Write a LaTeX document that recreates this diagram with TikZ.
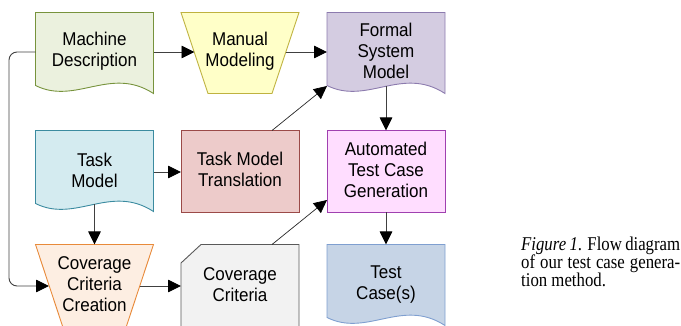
\documentclass[tikz,border=0pt]{standalone}
\usepackage{fontspec}
\setmainfont{Liberation Serif}
\newfontfamily\arialf[FakeStretch=0.92]{Liberation Sans}
\newfontfamily\capf[FakeStretch=0.86]{Liberation Serif}
\usetikzlibrary{arrows.meta}
\definecolor{mdfill}{HTML}{EBF1DE}\definecolor{mddraw}{HTML}{77933C}
\definecolor{mmfill}{HTML}{FFFFC8}\definecolor{mmdraw}{HTML}{BFB23F}
\definecolor{fsfill}{HTML}{D4CCE1}\definecolor{fsdraw}{HTML}{8C7BAE}
\definecolor{tmfill}{HTML}{D4EBF0}\definecolor{tmdraw}{HTML}{3B8BA0}
\definecolor{trfill}{HTML}{EDCBCA}\definecolor{trdraw}{HTML}{9B4A48}
\definecolor{agfill}{HTML}{FFDDFF}\definecolor{agdraw}{HTML}{A040B0}
\definecolor{ccfill}{HTML}{FDEEE2}\definecolor{ccdraw}{HTML}{E88A3A}
\definecolor{cgfill}{HTML}{F2F2F2}\definecolor{cgdraw}{HTML}{595959}
\definecolor{tcfill}{HTML}{C6D4E6}\definecolor{tcdraw}{HTML}{7F9FD0}
\begin{document}
\begin{tikzpicture}[x=1pt,y=-1pt,
  lbl/.style={font=\arialf\fontsize{18.5}{21}\selectfont, align=center, inner sep=0pt},
  shp/.style={line width=0.9pt},
  tip/.style={-{Triangle[length=13pt,width=12.5pt,color=black,fill=black]}},
  conn/.style={draw=black!75, line width=0.9pt, tip},
  thin conn/.style={draw=black!85, line width=0.7pt, tip},
  captext/.style={font=\capf\fontsize{19.5}{18}\selectfont, anchor=base west, inner sep=0pt}]
\useasboundingbox (0,0) rectangle (681,326);

% document shapes
\newcommand\docshape[4]{%
  \begin{scope}[shift={(#1,#2)}]
  \filldraw[shp, fill=#3, draw=#4] (0,0) -- (118,0) -- (118,81)
    .. controls (75,53) and (40,93) .. (0,73) -- cycle;
  \end{scope}}

\docshape{35.5}{12.5}{mdfill}{mddraw}
\docshape{327}{12.5}{fsfill}{fsdraw}
\docshape{35.5}{130.5}{tmfill}{tmdraw}
\docshape{327}{244.5}{tcfill}{tcdraw}

% manual modeling trapezoid
\filldraw[shp, fill=mmfill, draw=mmdraw] (181,12.5) -- (299,12.5) -- (272,93.5) -- (208,93.5) -- cycle;
% task model translation
\filldraw[shp, fill=trfill, draw=trdraw] (181,130.5) rectangle (299,212.5);
% automated test case generation
\filldraw[shp, fill=agfill, draw=agdraw] (327,130.5) rectangle (445,212.5);
% coverage criteria creation
\filldraw[shp, fill=ccfill, draw=ccdraw] (35.5,244.5) -- (153.5,244.5) -- (126,327.5) -- (63,327.5) -- cycle;
% coverage criteria card
\filldraw[shp, fill=cgfill, draw=cgdraw] (181,263) -- (201,244.5) -- (299,244.5) -- (299,328) -- (181,328) -- cycle;

% labels
\node[lbl] (md) at (94.5,51) {Machine\\Description};
\node[lbl] (mm) at (240,51) {Manual\\Modeling};
\node[lbl] (fsm) at (386,51) {Formal\\System\\Model};
\node[lbl] (tm) at (94.5,170) {Task\\Model};
\node[lbl] (tmt) at (240,169) {Task Model\\Translation};
\node[lbl] (atcg) at (386,170) {Automated\\Test Case\\Generation};
\node[lbl] (ccc) at (94.5,284) {Coverage\\Criteria\\Creation};
\node[lbl] (cc) at (240,285) {Coverage\\Criteria};
\node[lbl] (tc) at (386,285) {Test\\Case(s)};

% connection points
\coordinate (mdR) at (153.5,52);
\coordinate (mdL) at (35.5,52);
\coordinate (mmL) at (194.5,52);
\coordinate (mmR) at (285.5,52);
\coordinate (fsL) at (327,52);
\coordinate (fsBL) at (327,86);
\coordinate (fsB) at (386,86.5);
\coordinate (tmR) at (153.5,172);
\coordinate (tmB) at (94.5,204.5);
\coordinate (trL) at (181,172);
\coordinate (trT) at (272,130.5);
\coordinate (agT) at (386,130.5);
\coordinate (agB) at (386,212.5);
\coordinate (agBL) at (327,200);
\coordinate (ccT) at (94.5,244.5);
\coordinate (ccL) at (49,286);
\coordinate (ccR) at (139.5,286);
\coordinate (cgL) at (181,286);
\coordinate (cgT) at (272,244.5);
\coordinate (tcT) at (386,244.5);
\coordinate (bendA) at (9,52);
\coordinate (bendB) at (9,286);

% connectors
\draw[conn] (mdR) -- (mmL);
\draw[conn] (mmR) -- (fsL);
\draw[conn, rounded corners=8pt] (mdL) -- (bendA) -- (bendB) -- (ccL);
\draw[conn] (tmR) -- (trL);
\draw[thin conn] (trT) -- (fsBL);
\draw[conn] (tmB) -- (ccT);
\draw[conn] (ccR) -- (cgL);
\draw[thin conn] (cgT) -- (agBL);
\draw[conn] (fsB) -- (agT);
\draw[conn] (agB) -- (tcT);

% caption
\node[captext] (cap1) at (521,250.5) {\makebox[159pt][s]{\textit{Figure 1}. Flow diagram}};
\node[captext] (cap2) at (521,268.5) {\makebox[159pt][s]{of our test case genera-}};
\node[captext] (cap3) at (521,286.5) {tion method.};
\end{tikzpicture}
\end{document}
